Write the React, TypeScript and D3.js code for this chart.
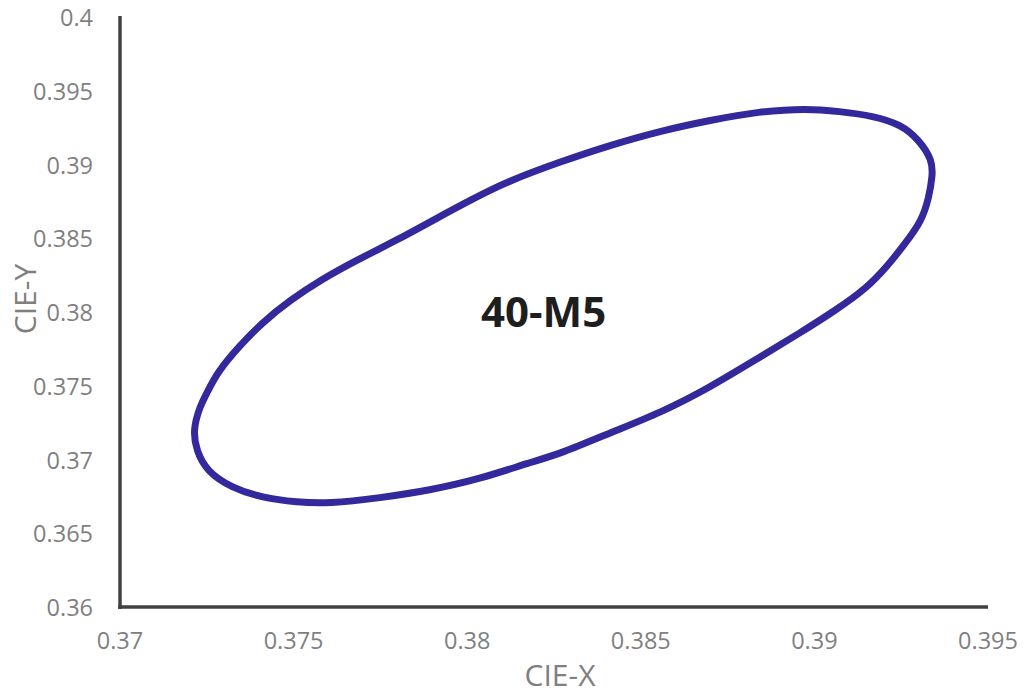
import React from "react";
import * as d3 from "d3";

const xTicks = [0.37, 0.375, 0.38, 0.385, 0.39, 0.395];
const yTicks = [0.36, 0.365, 0.37, 0.375, 0.38, 0.385, 0.39, 0.395, 0.4];

// Points read around the ellipse (CIE-X, CIE-Y)
const cieX = [
  0.3721, 0.3723, 0.3725, 0.3728, 0.3734, 0.3741, 0.3749, 0.3758, 0.3768, 0.378,
  0.379, 0.3801, 0.3812, 0.3827, 0.3841, 0.3856, 0.387, 0.3884, 0.3898, 0.3907,
  0.3917, 0.3925, 0.393, 0.3934, 0.3934, 0.3933, 0.3931, 0.3926, 0.3921, 0.3915,
  0.3906, 0.3896, 0.3884, 0.387, 0.3856, 0.3841, 0.3827, 0.3818, 0.3804, 0.3789,
  0.3775, 0.376, 0.3751, 0.3741, 0.3732, 0.3725, 0.3722,
];
const cieY = [
  0.372, 0.3736, 0.3745, 0.3759, 0.3776, 0.3793, 0.3808, 0.3822, 0.3835, 0.3849,
  0.3862, 0.3876, 0.3889, 0.3902, 0.3913, 0.3923, 0.393, 0.3936, 0.3938, 0.3936,
  0.3933, 0.3927, 0.3917, 0.3903, 0.3892, 0.3878, 0.3862, 0.3846, 0.3831, 0.3816,
  0.3801, 0.3786, 0.3769, 0.3749, 0.3732, 0.3718, 0.3704, 0.3698, 0.3687, 0.3679,
  0.3674, 0.367, 0.3671, 0.3674, 0.3681, 0.3692, 0.3706,
];
const labelText = "40-M5";
const labelPos = [0.3822, 0.3801];

const W = 1029;
const H = 693;
const FONT = "'Open Sans', 'Noto Sans', sans-serif";

export default function App() {
  const x = d3.scaleLinear().domain([0.37, 0.395]).range([120, 988]);
  const y = d3.scaleLinear().domain([0.36, 0.4]).range([607, 17]);
  const pts: [number, number][] = cieX.map((v, i) => [v, cieY[i]]);
  const line = d3
    .line<[number, number]>()
    .x((d) => x(d[0]))
    .y((d) => y(d[1]))
    .curve(d3.curveBasisClosed);
  const color = "#33289c";
  return (
    <svg
      width={W}
      height={H}
      style={{ position: "absolute", left: 0, top: 0, background: "#fff" }}
    >
      <path d={line(pts) || ""} fill="none" stroke={color} strokeWidth={7} strokeLinejoin="round" />
      <line x1={x(0.37)} x2={x(0.37)} y1={16} y2={y(0.36) + 2} stroke="#404040" strokeWidth={3.5} />
      <line x1={x(0.37) - 1.75} x2={x(0.395)} y1={y(0.36)} y2={y(0.36)} stroke="#404040" strokeWidth={3.5} />
      {yTicks.map((t) => (
        <text
          key={"y" + t}
          x={93}
          y={y(t)}
          textAnchor="end"
          dominantBaseline="central"
          fontFamily={FONT}
          fontSize={23.5}
          fill="#7f7f7f"
        >
          {d3.format("")(t)}
        </text>
      ))}
      {xTicks.map((t) => (
        <text
          key={"x" + t}
          x={x(t)}
          y={640}
          textAnchor="middle"
          dominantBaseline="central"
          fontFamily={FONT}
          fontSize={23.5}
          fill="#7f7f7f"
        >
          {d3.format("")(t)}
        </text>
      ))}
      <text x={560} y={674} textAnchor="middle" dominantBaseline="central" fontFamily={FONT} fontSize={30} fill="#7f7f7f">
        CIE-X
      </text>
      <text
        transform="translate(24,299) rotate(-90)"
        textAnchor="middle"
        dominantBaseline="central"
        fontFamily={FONT}
        fontSize={30}
        fill="#7f7f7f"
      >
        CIE-Y
      </text>
      <text
        x={x(labelPos[0])}
        y={y(labelPos[1])}
        textAnchor="middle"
        dominantBaseline="central"
        fontFamily={FONT}
        fontWeight="bold"
        fontSize={42}
        fill="#1e1e1e"
      >
        {labelText}
      </text>
    </svg>
  );
}
